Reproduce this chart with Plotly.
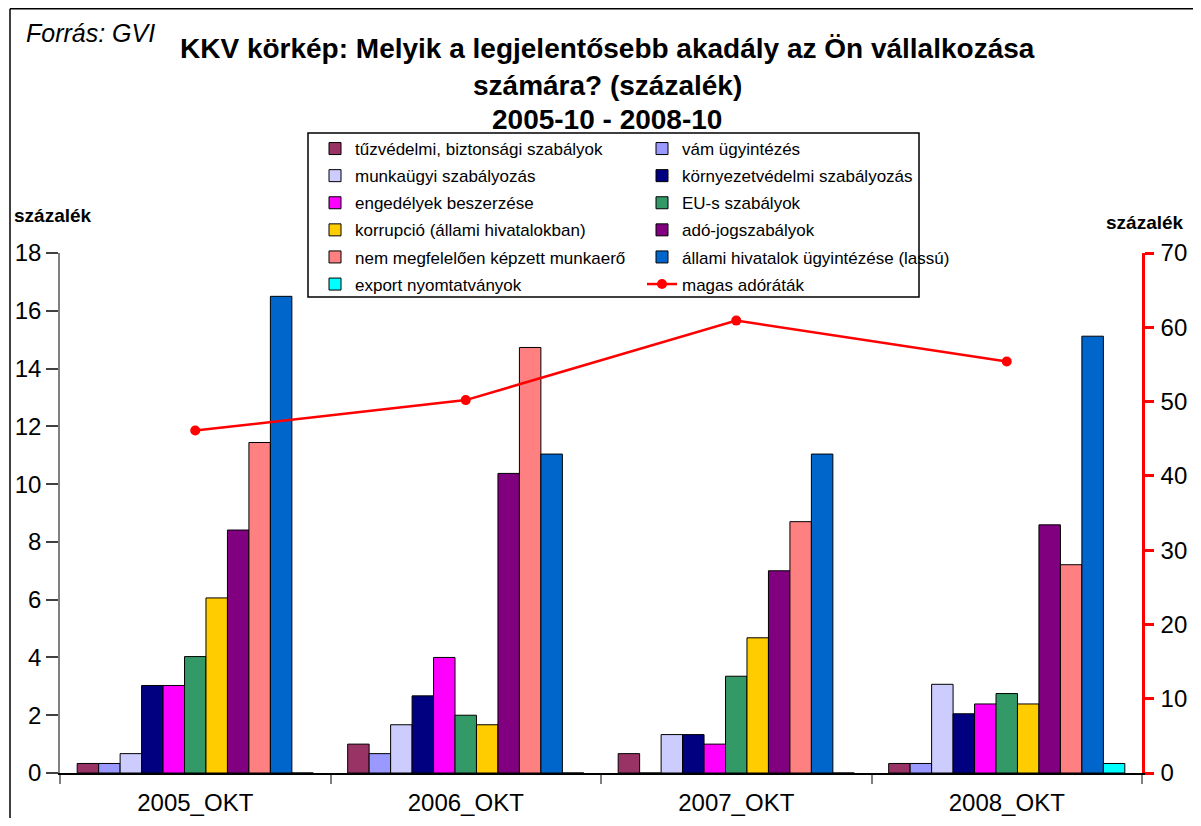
import plotly.graph_objects as go

# data
categories = ["2005_OKT", "2006_OKT", "2007_OKT", "2008_OKT"]

tuzvedelmi = [0.33, 1.0, 0.67, 0.33]
vam = [0.33, 0.67, 0, 0.33]
munkaugyi = [0.67, 1.67, 1.33, 3.07]
kornyezet = [3.03, 2.67, 1.33, 2.05]
engedelyek = [3.03, 4.0, 1.0, 2.39]
eu_szabalyok = [4.03, 2.0, 3.35, 2.75]
korrupcio = [6.06, 1.67, 4.68, 2.39]
ado_jog = [8.41, 10.37, 7.0, 8.59]
munkaero = [11.44, 14.73, 8.7, 7.21]
hivatalok = [16.5, 11.04, 11.04, 15.12]
export = [0, 0, 0, 0.33]
magas_ado = [46.1, 50.2, 60.9, 55.4]

bar_series = [
    ("tűzvédelmi, biztonsági szabályok", tuzvedelmi, "#993366", "legend"),
    ("vám ügyintézés", vam, "#9999FF", "legend2"),
    ("munkaügyi szabályozás", munkaugyi, "#CCCCFF", "legend"),
    ("környezetvédelmi szabályozás", kornyezet, "#000080", "legend2"),
    ("engedélyek beszerzése", engedelyek, "#FF00FF", "legend"),
    ("EU-s szabályok", eu_szabalyok, "#339966", "legend2"),
    ("korrupció (állami hivatalokban)", korrupcio, "#FFCC00", "legend"),
    ("adó-jogszabályok", ado_jog, "#800080", "legend2"),
    ("nem megfelelően képzett munkaerő", munkaero, "#FF8080", "legend"),
    ("állami hivatalok ügyintézése (lassú)", hivatalok, "#0066CC", "legend2"),
    ("export nyomtatványok", export, "#00FFFF", "legend"),
]

FONT = "Liberation Sans, Arial, sans-serif"

# page has an 8px body margin all round, so the figure is drawn smaller
# (no scrollbars) and screen positions are shifted by that amount
OFF = 8
W, H = 1201 - 2 * OFF, 826 - 2 * OFF
PLOT_L, PLOT_R, PLOT_T, PLOT_B = 60, 1142, 253, 773   # screen px
ML = PLOT_L - OFF
MR = W - (PLOT_R - OFF)
MT = PLOT_T - OFF
MB = H - (PLOT_B - OFF)
PW, PH = PLOT_R - PLOT_L, PLOT_B - PLOT_T


def px2x(px):
    return (px - PLOT_L) / PW


def py2y(py):
    return (PLOT_B - py) / PH


fig = go.Figure()
for name, vals, color, leg in bar_series:
    fig.add_trace(go.Bar(
        x=categories, y=vals, name=name, legend=leg, legendgroup=name,
        marker=dict(color=color, line=dict(color="#000000", width=1)),
    ))

fig.add_trace(go.Scatter(
    x=categories, y=magas_ado, name="magas adóráták", yaxis="y2",
    legend="legend2", legendgroup="magas",
    mode="lines+markers", line=dict(color="#FF0000", width=2.5),
    marker=dict(color="#FF0000", size=10),
))

legend_common = dict(
    font=dict(family=FONT, size=17, color="#000000"),
    bgcolor="rgba(0,0,0,0)", borderwidth=0,
    xanchor="left", yanchor="top", tracegroupgap=2,
    itemclick=False,
)

fig.update_layout(
    width=W, height=H,
    margin=dict(l=ML, r=MR, t=MT, b=MB, autoexpand=False),
    plot_bgcolor="white", paper_bgcolor="white",
    font=dict(family=FONT, color="#000000"),
    barmode="group", bargap=0.127, bargroupgap=0,
    showlegend=True,
    legend=dict(x=px2x(315), y=py2y(131), **legend_common),
    legend2=dict(x=px2x(642), y=py2y(131), **legend_common),
    xaxis=dict(
        showline=True, linecolor="#000000", linewidth=1.5,
        ticks="outside", ticklen=9, tickcolor="#808080", tickwidth=1.5,
        tickson="boundaries", ticklabelstandoff=7,
        tickfont=dict(size=24), showgrid=False,
    ),
    yaxis=dict(
        range=[0, 18], dtick=2, showline=True, linecolor="#808080", linewidth=1.5,
        ticks="outside", ticklen=12, tickcolor="#404040", tickwidth=1.5,
        tickfont=dict(size=24), showgrid=False, zeroline=False,
    ),
    yaxis2=dict(
        range=[0, 70], dtick=10, overlaying="y", side="right", anchor="x",
        showline=True, linecolor="#FF0000", linewidth=2.5,
        ticks="outside", ticklen=9, tickcolor="#FF0000", tickwidth=2.5,
        ticklabelstandoff=2,
        tickfont=dict(size=24), showgrid=False, zeroline=False,
    ),
    yaxis3=dict(
        range=[0, 70], dtick=10, overlaying="y", side="right", anchor="x",
        showline=False, ticks="inside", ticklen=9, tickcolor="#FF0000", tickwidth=2.5,
        showticklabels=False, showgrid=False, zeroline=False,
    ),
)

# title lines
title_lines = [
    ("KKV körkép: Melyik a legjelentősebb akadály az Ön vállalkozása", 48),
    ("számára? (százalék)", 85),
    ("2005-10 - 2008-10", 119),
]
for txt, ypx in title_lines:
    fig.add_annotation(
        text="<b>%s</b>" % txt, xref="paper", yref="paper",
        x=px2x(607), y=py2y(ypx), xanchor="center", yanchor="middle",
        showarrow=False, font=dict(size=28, family=FONT),
    )

fig.add_annotation(
    text="<i>Forrás: GVI</i>", xref="paper", yref="paper",
    x=px2x(24), y=py2y(33), xanchor="left", yanchor="middle",
    showarrow=False, font=dict(size=25, family=FONT),
)
fig.add_annotation(
    text="<b>százalék</b>", xref="paper", yref="paper",
    x=px2x(12), y=py2y(215), xanchor="left", yanchor="middle",
    showarrow=False, font=dict(size=19, family=FONT),
)
fig.add_annotation(
    text="<b>százalék</b>", xref="paper", yref="paper",
    x=px2x(1104), y=py2y(222), xanchor="left", yanchor="middle",
    showarrow=False, font=dict(size=19, family=FONT),
)

# legend frame and outer chart frame (left and top edges)
fig.add_shape(type="rect", xref="paper", yref="paper",
              x0=px2x(308), x1=px2x(919), y0=py2y(297), y1=py2y(133),
              line=dict(color="#000000", width=1.5), fillcolor="white", layer="below")
fig.add_shape(type="line", xref="paper", yref="paper",
              x0=px2x(10), x1=px2x(1210), y0=py2y(OFF + 0.75), y1=py2y(OFF + 0.75),
              line=dict(color="#000000", width=1.5))
fig.add_shape(type="line", xref="paper", yref="paper",
              x0=px2x(10), x1=px2x(10), y0=py2y(OFF + 0.75), y1=py2y(840),
              line=dict(color="#000000", width=1.5))

fig.write_html("out.html")
